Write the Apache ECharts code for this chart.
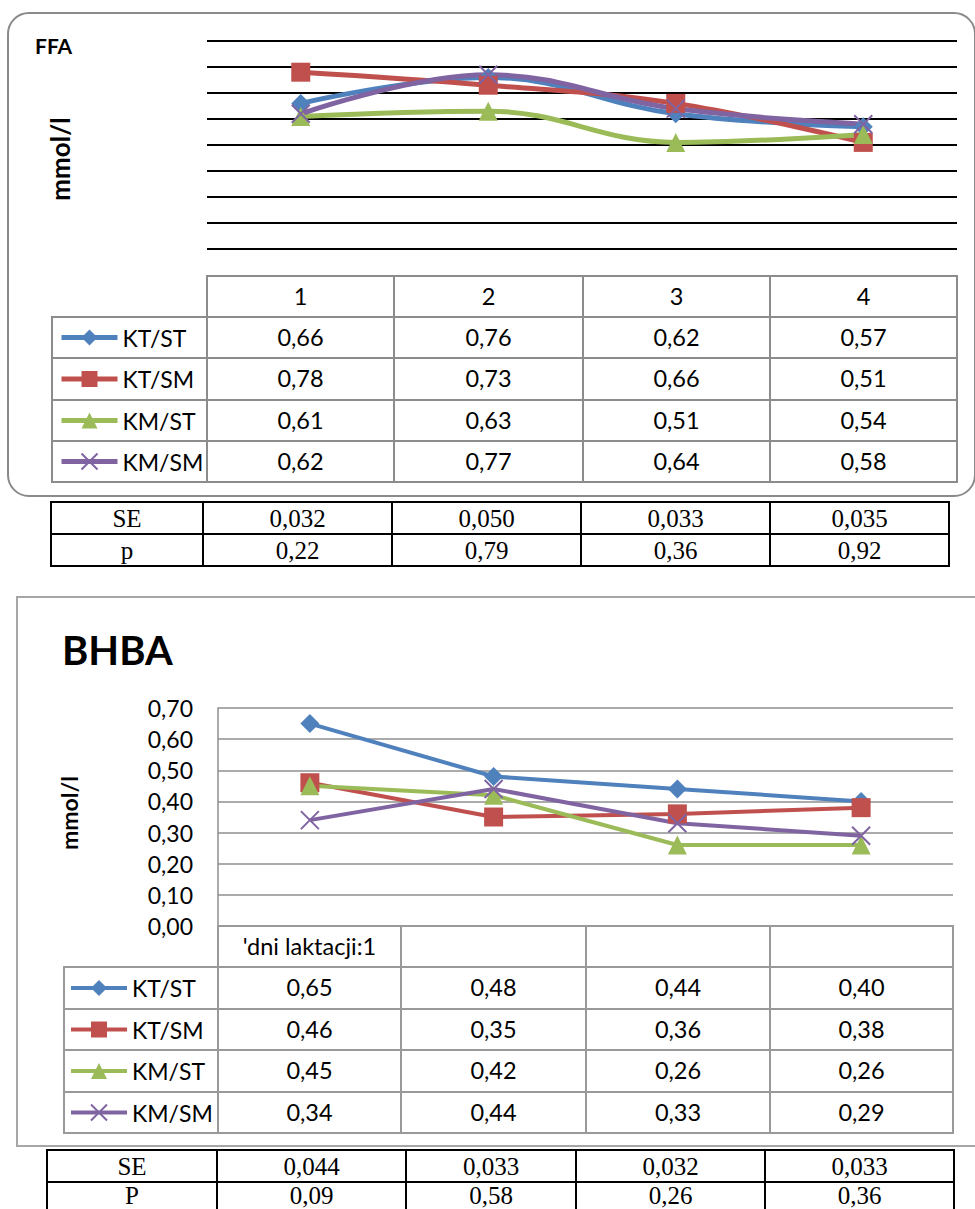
<!DOCTYPE html>
<html><head><meta charset="utf-8">
<script src="https://cdn.jsdelivr.net/npm/echarts@6/dist/echarts.min.js"></script>
<style>
html,body{margin:0;padding:0;background:#fff;}
#wrap{position:relative;width:975px;height:1209px;overflow:hidden;background:#fff;}
#chart{position:absolute;left:0;top:0;width:975px;height:1209px;z-index:1;}
.box{position:absolute;box-sizing:border-box;z-index:0;}
.ln{position:absolute;z-index:2;}
.tx{position:absolute;z-index:2;display:flex;align-items:center;justify-content:center;white-space:nowrap;color:#000;line-height:1;}
</style></head>
<body><div id="wrap">
<div class="box" style="left:7px;top:12px;width:969px;height:485px;border:2px solid #8a8a8a;border-radius:22px;"></div>
<div class="box" style="left:16px;top:596px;width:990px;height:551px;border:2px solid #a6a6a6;"></div>
<div id="chart"></div>
</div>
<script>
// ---------- DATA ----------
const seriesNames = ['KT/ST', 'KT/SM', 'KM/ST', 'KM/SM'];

const ffaCategories = ['1', '2', '3', '4'];
const ffaKTST = [0.66, 0.76, 0.62, 0.57];
const ffaKTSM = [0.78, 0.73, 0.66, 0.51];
const ffaKMST = [0.61, 0.63, 0.51, 0.54];
const ffaKMSM = [0.62, 0.77, 0.64, 0.58];
const ffaSE = ['0,032', '0,050', '0,033', '0,035'];
const ffaP = ['0,22', '0,79', '0,36', '0,92'];

const bhbaCategories = ["'dni laktacji:1", '', '', ''];
const bhbaKTST = [0.65, 0.48, 0.44, 0.40];
const bhbaKTSM = [0.46, 0.35, 0.36, 0.38];
const bhbaKMST = [0.45, 0.42, 0.26, 0.26];
const bhbaKMSM = [0.34, 0.44, 0.33, 0.29];
const bhbaSE = ['0,044', '0,033', '0,032', '0,033'];
const bhbaP = ['0,09', '0,58', '0,26', '0,36'];

const ffaValues = [ffaKTST, ffaKTSM, ffaKMST, ffaKMSM];
const bhbaValues = [bhbaKTST, bhbaKTSM, bhbaKMST, bhbaKMSM];

// ---------- STYLE ----------
const colors = ['#4F81BD', '#C0504D', '#9BBB59', '#8064A2'];
const symbols = ['diamond', 'rect', 'triangle', 'path://M0,0L10,10M10,0L0,10'];
const FONT = 'Lato, "Open Sans", sans-serif';
const SERIF = '"Liberation Serif", "Times New Roman", serif';
const PAGE_H = 1209;
const fmt = v => v.toFixed(2).replace('.', ',');

// ---------- TABLES (HTML) ----------
const wrap = document.getElementById('wrap');
function addLine(x, y, w, h, c) {
  const d = document.createElement('div');
  d.className = 'ln';
  d.style.cssText = `left:${x}px;top:${y}px;width:${w}px;height:${h}px;background:${c};`;
  wrap.appendChild(d);
}
function drawTable(xs, ys, rows, o) {
  const t = o.lw;
  for (let j = 0; j < ys.length; j++) {
    let x0 = xs[0], x1 = xs[xs.length - 1];
    if (o.skipTopLeft && j === 0) x0 = xs[1];
    addLine(x0 - t / 2, ys[j] - t / 2, x1 - x0 + t, t, o.color);
  }
  for (let i = 0; i < xs.length; i++) {
    let y0 = ys[0], y1 = ys[ys.length - 1];
    if (o.skipTopLeft && i === 0) y0 = ys[1];
    addLine(xs[i] - t / 2, y0 - t / 2, t, y1 - y0 + t, o.color);
  }
  rows.forEach((r, j) => r.forEach((s, i) => {
    if (s == null || s === '') return;
    const d = document.createElement('div');
    d.className = 'tx';
    const bottom = Math.min(ys[j + 1], PAGE_H - 1);
    d.style.left = xs[i] + 'px';
    d.style.top = ys[j] + 'px';
    d.style.width = (xs[i + 1] - xs[i]) + 'px';
    d.style.height = (bottom - ys[j]) + 'px';
    d.style.font = o.font;
    d.style.lineHeight = '1';
    d.textContent = s;
    wrap.appendChild(d);
  }));
}

// FFA data table
const ffaTX = [52, 207, 394, 583, 770, 957];
const ffaTY = [276, 317, 358, 400, 441, 482];
drawTable(ffaTX, ffaTY,
  [[null].concat(ffaCategories)].concat(ffaValues.map(v => [null].concat(v.map(fmt)))),
  { lw: 2, color: '#8c8c8c', font: '23.5px ' + FONT, skipTopLeft: true });
// FFA SE table
drawTable([51, 203, 392, 581, 770, 949], [502, 534, 566],
  [['SE'].concat(ffaSE), ['p'].concat(ffaP)],
  { lw: 2, color: '#000', font: '25px ' + SERIF });

// BHBA data table
const bhbaTX = [64, 218, 401, 586, 770, 953];
const bhbaTY = [926, 967, 1009, 1050, 1092, 1133];
drawTable(bhbaTX, bhbaTY,
  [[null].concat(bhbaCategories)].concat(bhbaValues.map(v => [null].concat(v.map(fmt)))),
  { lw: 1.5, color: '#999', font: '23.5px ' + FONT, skipTopLeft: true });
// BHBA SE table
drawTable([47, 217, 406, 576, 765, 954], [1150, 1182, 1214],
  [['SE'].concat(bhbaSE), ['P'].concat(bhbaP)],
  { lw: 2, color: '#000', font: '25px ' + SERIF });

// ---------- CHART ----------
const chart = echarts.init(document.getElementById('chart'), null, { renderer: 'svg' });

function mkSeries(values, gi, smooth, width) {
  return values.map((data, i) => ({
    type: 'line',
    name: seriesNames[i],
    xAxisIndex: gi, yAxisIndex: gi,
    data: data,
    smooth: smooth,
    symbol: symbols[i],
    symbolSize: i === 3 ? 18 : 19,
    showAllSymbol: true,
    lineStyle: { width: width, color: colors[i] },
    itemStyle: i === 3 ? { color: colors[i], borderColor: colors[i], borderWidth: 2 } : { color: colors[i] },
    emphasis: { disabled: true },
    animation: false
  }));
}

const ffaRowC = ffaTY.slice(1).map((y, k) => (y + ffaTY[k + 2]) / 2);
const bhbaRowC = bhbaTY.slice(1).map((y, k) => (y + bhbaTY[k + 2]) / 2);

function mkLegends(rowC, left, lw, fs) {
  return seriesNames.map((n, k) => ({
    data: [n], left: left, top: rowC[k] - 12, orient: 'horizontal',
    itemWidth: 56, itemHeight: 20, itemGap: 0, padding: 0, selectedMode: false,
    lineStyle: { width: lw, color: 'inherit' },
    textStyle: { fontSize: fs, fontFamily: FONT, color: '#000', lineHeight: 24 }
  }));
}

const option = {
  animation: false,
  title: [
    { text: 'FFA', left: 35, top: 35, padding: 0,
      textStyle: { fontFamily: FONT, fontWeight: 'bold', fontSize: 21, color: '#000', lineHeight: 21 } },
    { text: 'BHBA', left: 62, top: 630, padding: 0,
      textStyle: { fontFamily: FONT, fontWeight: 'bold', fontSize: 40, color: '#000', lineHeight: 40 } }
  ],
  legend: mkLegends(ffaRowC, 59, 5, 23).concat(mkLegends(bhbaRowC, 69, 4, 23)),
  grid: [
    { left: 207, right: 18, top: 41, bottom: 934 },
    { left: 218, right: 22, top: 708, bottom: 283 }
  ],
  xAxis: [
    { gridIndex: 0, type: 'category', data: ffaCategories, boundaryGap: true,
      axisLabel: { show: false }, axisLine: { show: false }, axisTick: { show: false } },
    { gridIndex: 1, type: 'category', data: bhbaCategories, boundaryGap: true,
      axisLabel: { show: false }, axisLine: { show: false }, axisTick: { show: false } }
  ],
  yAxis: [
    { gridIndex: 0, type: 'value', min: 0, max: 0.9, interval: 0.1,
      axisLabel: { show: false }, axisLine: { show: false }, axisTick: { show: false },
      splitLine: { show: true, showMinLine: false, lineStyle: { color: '#000', width: 2 } } },
    { gridIndex: 1, type: 'value', min: 0, max: 0.7, interval: 0.1,
      axisLabel: { formatter: fmt, fontSize: 23, fontFamily: FONT, color: '#000', margin: 25 },
      axisLine: { show: true, lineStyle: { color: '#8f8f8f', width: 1.5 } }, axisTick: { show: false },
      splitLine: { show: true, lineStyle: { color: '#8f8f8f', width: 1.5 } } }
  ],
  graphic: [
    { type: 'text', x: 60, y: 159, rotation: Math.PI / 2,
      style: { text: 'mmol/l', fontFamily: FONT, fontWeight: 'bold', fontSize: 26, fill: '#000', align: 'center', verticalAlign: 'middle' } },
    { type: 'text', x: 69, y: 813, rotation: Math.PI / 2,
      style: { text: 'mmol/l', fontFamily: FONT, fontWeight: 'bold', fontSize: 23, fill: '#000', align: 'center', verticalAlign: 'middle' } }
  ],
  series: mkSeries(ffaValues, 0, 0.4, 5).concat(mkSeries(bhbaValues, 1, false, 4))
};
chart.setOption(option);
</script>
</body></html>
